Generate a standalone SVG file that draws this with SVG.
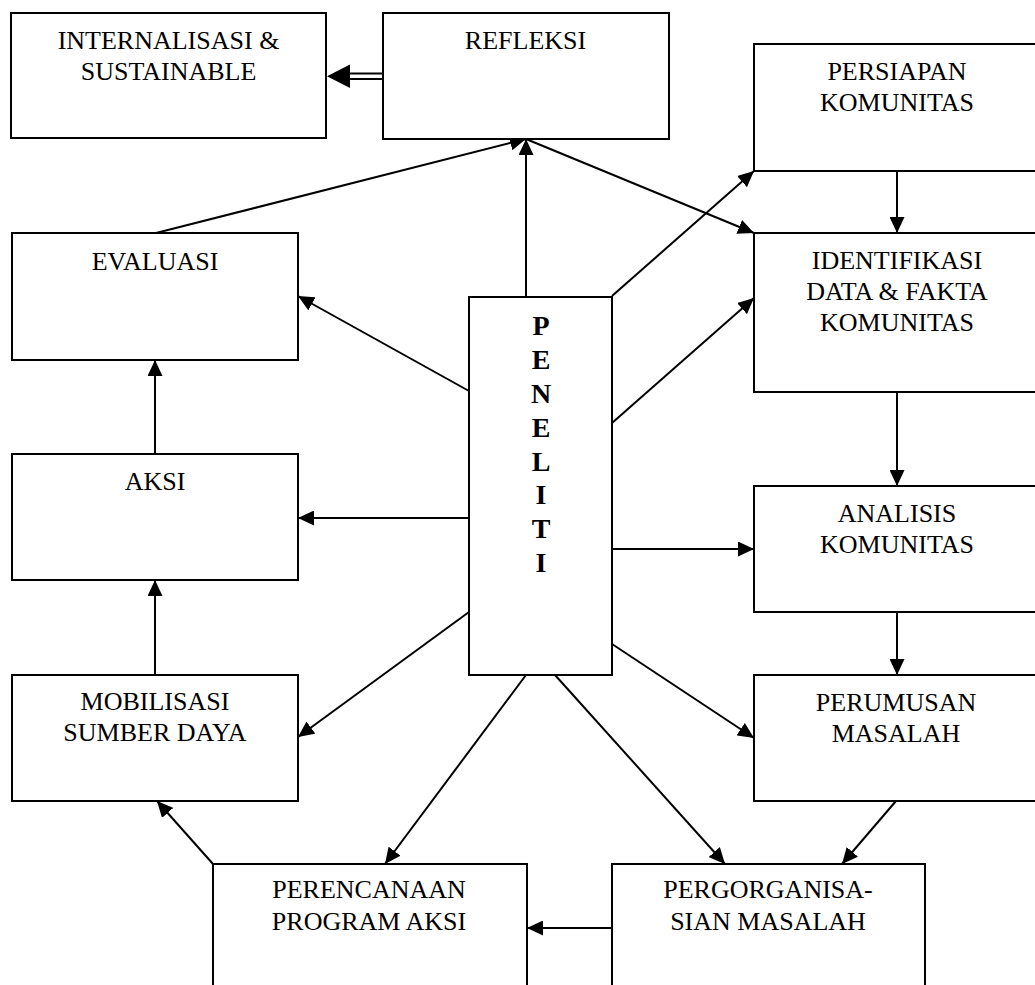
<svg xmlns="http://www.w3.org/2000/svg" width="1035" height="985" viewBox="0 0 1035 985">
<defs>
<style>
.box{fill:#fff;stroke:#000;stroke-width:2}
.t{font-family:"Liberation Serif","Times New Roman",serif;font-size:26px;fill:#000;text-anchor:middle}
.b{font-family:"Liberation Serif","Times New Roman",serif;font-size:28px;font-weight:bold;fill:#000;text-anchor:middle}
.c{stroke:#000;stroke-width:2;fill:none}
.a{marker-end:url(#ah)}
</style>
<marker id="ah" markerUnits="userSpaceOnUse" markerWidth="16" markerHeight="15" refX="16" refY="7.5" orient="auto" viewBox="0 0 16 15">
<path d="M0,0 L16,7.5 L0,15 z" fill="#000"/>
</marker>
</defs>
<rect width="1035" height="985" fill="#fff"/>
<g id="connectors">
<line class="c" x1="350" y1="73.5" x2="383" y2="73.5"/>
<line class="c" x1="350" y1="79" x2="383" y2="79"/>
<polygon points="327,76.3 350,64.5 350,88" fill="#000"/>
<line class="c a" x1="156" y1="233" x2="526" y2="139"/>
<line class="c a" x1="526" y1="297" x2="526" y2="139"/>
<line class="c a" x1="526" y1="139" x2="754" y2="233"/>
<line class="c a" x1="612" y1="296" x2="754" y2="171"/>
<line class="c a" x1="897" y1="171" x2="897" y2="233"/>
<line class="c a" x1="612" y1="423" x2="754" y2="298"/>
<line class="c a" x1="897" y1="392" x2="897" y2="486"/>
<line class="c a" x1="612" y1="549" x2="754" y2="549"/>
<line class="c a" x1="897" y1="612" x2="897" y2="675"/>
<line class="c a" x1="612" y1="644" x2="754" y2="738"/>
<line class="c a" x1="896" y1="801" x2="842" y2="864"/>
<line class="c a" x1="555" y1="675" x2="725" y2="864"/>
<line class="c a" x1="526" y1="675" x2="385" y2="864"/>
<line class="c a" x1="612" y1="928" x2="527" y2="928"/>
<line class="c a" x1="213" y1="864" x2="157" y2="801"/>
<line class="c a" x1="469" y1="612" x2="298" y2="737"/>
<line class="c a" x1="469" y1="518" x2="298" y2="518"/>
<line class="c a" x1="469" y1="391" x2="298" y2="296"/>
<line class="c a" x1="155" y1="454" x2="155" y2="360"/>
<line class="c a" x1="155" y1="675" x2="155" y2="580"/>
</g>
<g id="internalisasi">
<rect class="box" x="11" y="13" width="315" height="125"/>
<text class="t" x="168.5" y="49">INTERNALISASI &amp;</text>
<text class="t" x="168.5" y="80">SUSTAINABLE</text>
</g>
<g id="refleksi">
<rect class="box" x="383" y="13" width="286" height="126"/>
<text class="t" x="525.5" y="49">REFLEKSI</text>
</g>
<g id="persiapan">
<rect class="box" x="754" y="44" width="286" height="127"/>
<text class="t" x="897" y="80">PERSIAPAN</text>
<text class="t" x="897" y="111">KOMUNITAS</text>
</g>
<g id="identifikasi">
<rect class="box" x="754" y="233" width="286" height="159"/>
<text class="t" x="897" y="269">IDENTIFIKASI</text>
<text class="t" x="897" y="300">DATA &amp; FAKTA</text>
<text class="t" x="897" y="331">KOMUNITAS</text>
</g>
<g id="analisis">
<rect class="box" x="754" y="486" width="286" height="126"/>
<text class="t" x="897" y="522">ANALISIS</text>
<text class="t" x="897" y="553">KOMUNITAS</text>
</g>
<g id="perumusan">
<rect class="box" x="754" y="675" width="286" height="126"/>
<text class="t" x="896" y="711">PERUMUSAN</text>
<text class="t" x="896" y="742">MASALAH</text>
</g>
<g id="evaluasi">
<rect class="box" x="12" y="233" width="286" height="127"/>
<text class="t" x="155" y="270">EVALUASI</text>
</g>
<g id="aksi">
<rect class="box" x="12" y="454" width="286" height="126"/>
<text class="t" x="155" y="490">AKSI</text>
</g>
<g id="mobilisasi">
<rect class="box" x="12" y="675" width="286" height="126"/>
<text class="t" x="155" y="710">MOBILISASI</text>
<text class="t" x="155" y="741">SUMBER DAYA</text>
</g>
<g id="peneliti">
<rect class="box" x="469" y="297" width="143" height="378"/>
<text class="b" x="541" y="335">P</text>
<text class="b" x="541" y="369">E</text>
<text class="b" x="541" y="403">N</text>
<text class="b" x="541" y="437">E</text>
<text class="b" x="541" y="471">L</text>
<text class="b" x="541" y="504">I</text>
<text class="b" x="541" y="538">T</text>
<text class="b" x="541" y="572">I</text>
</g>
<g id="perencanaan">
<rect class="box" x="213" y="864" width="314" height="140"/>
<text class="t" x="369" y="898">PERENCANAAN</text>
<text class="t" x="369" y="930">PROGRAM AKSI</text>
</g>
<g id="pergorganisasian">
<rect class="box" x="612" y="864" width="313" height="140"/>
<text class="t" x="768" y="898">PERGORGANISA-</text>
<text class="t" x="768" y="930">SIAN MASALAH</text>
</g>
</svg>
